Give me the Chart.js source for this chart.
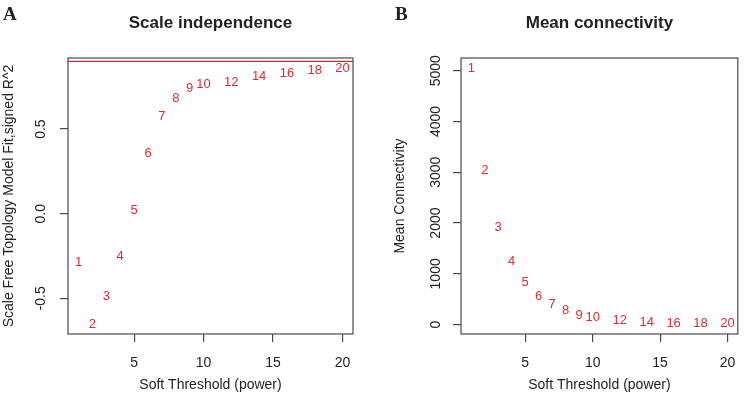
<!DOCTYPE html>
<html>
<head>
<meta charset="utf-8">
<script src="https://cdn.jsdelivr.net/npm/chart.js@4/dist/chart.umd.min.js"></script>
<style>
html,body{margin:0;padding:0;background:#fff;width:748px;height:395px;overflow:hidden;}
canvas{position:absolute;top:0;}
#cA{left:0;} #cB{left:374px;}
</style>
</head>
<body>
<canvas id="cA" width="374" height="395"></canvas>
<canvas id="cB" width="374" height="395"></canvas>
<script>
// ---- data ----
const powers = [1,2,3,4,5,6,7,8,9,10,12,14,16,18,20];
const scaleFitR2 = [-0.29,-0.654,-0.487,-0.254,0.022,0.356,0.573,0.682,0.738,0.764,0.778,0.812,0.829,0.845,0.859];
const meanConnectivity = [5053,3040,1913,1243,822,552,389,276,191,146,79,39,28,22,17];
const r2Cutoff = 0.9;
const xTicks = [5,10,15,20];
const yTicksA = [-0.5,0,0.5];
const yTickLabelsA = ['-0.5','0.0','0.5'];
const yTicksB = [0,1000,2000,3000,4000,5000];
const yTickLabelsB = ['0','1000','2000','3000','4000','5000'];
const titles = ['Scale independence','Mean connectivity'];
const panelLetters = ['A','B'];
const xTitle = 'Soft Threshold (power)';
const yTitles = ['Scale Free Topology Model Fit,signed R^2','Mean Connectivity'];

const RED = '#df2a2f';
const AXIS = '#4a4a4a';
const FONT = '"Liberation Sans", Arial, Helvetica, sans-serif';

function makeChart(id, values, yMin, yMax, yTicks, yLabels, cfg) {
  const pts = powers.map((p,i)=>({x:p,y:values[i]}));
  const datasets = [{
    data: pts, pointRadius: 0, pointHoverRadius: 0, showLine: false,
    borderColor: RED, backgroundColor: RED
  }];
  if (cfg.cutoff !== undefined) {
    datasets.push({
      data: [{x:cfg.xMin,y:cfg.cutoff},{x:cfg.xMax,y:cfg.cutoff}],
      showLine: true, pointRadius: 0, borderColor: RED, borderWidth: 1.2, labelsOff: true
    });
  }
  const decor = {
    id: 'decor',
    afterDraw(chart) {
      const ctx = chart.ctx, a = chart.chartArea;
      const ys = chart.scales.y;
      ctx.save();
      // box
      ctx.strokeStyle = AXIS; ctx.lineWidth = 1.2;
      ctx.strokeRect(a.left, a.top, a.right - a.left, a.bottom - a.top);
      // point labels
      const meta = chart.getDatasetMeta(0);
      ctx.fillStyle = RED; ctx.font = '13px ' + FONT;
      ctx.textAlign = 'center'; ctx.textBaseline = 'middle';
      meta.data.forEach((el,i)=>{ ctx.fillText(String(powers[i]), el.x, el.y); });
      // y tick labels (rotated)
      ctx.fillStyle = '#222'; ctx.font = '14px ' + FONT;
      yTicks.forEach((v,i)=>{
        const py = ys.getPixelForValue(v);
        ctx.save(); ctx.translate(cfg.yLabelX, py); ctx.rotate(-Math.PI/2);
        ctx.fillText(yLabels[i], 0, 0); ctx.restore();
      });
      // y title
      ctx.save(); ctx.translate(cfg.yTitleX, (a.top + a.bottom)/2); ctx.rotate(-Math.PI/2);
      ctx.fillText(cfg.yTitle, 0, 0); ctx.restore();
      // x title
      ctx.fillText(xTitle, (a.left + a.right)/2, 385);
      // main title
      ctx.font = 'bold 17px ' + FONT; ctx.textBaseline = 'alphabetic';
      ctx.fillText(cfg.title, (a.left + a.right)/2, 27.5);
      // panel letter
      ctx.font = 'bold 19px "Liberation Serif", "Times New Roman", serif';
      ctx.textAlign = 'left';
      ctx.fillText(cfg.letter, cfg.letterX, 19.5);
      ctx.restore();
    }
  };
  return new Chart(document.getElementById(id), {
    type: 'scatter',
    data: { datasets },
    options: {
      responsive: false, animation: false, devicePixelRatio: 1,
      layout: { padding: { left: 0, right: cfg.padRight, top: 58, bottom: 0 } },
      plugins: { legend: {display:false}, tooltip: {enabled:false}, title: {display:false} },
      scales: {
        x: {
          type: 'linear', min: cfg.xMin, max: cfg.xMax,
          afterBuildTicks: s => { s.ticks = xTicks.map(v=>({value:v})); },
          afterFit: s => { s.height = 61; },
          grid: { drawOnChartArea: false, drawTicks: true, tickLength: 8, color: AXIS, lineWidth: 1.2 },
          border: { display: false },
          ticks: { color: '#222', font: { size: 14, family: FONT }, padding: 12.6, maxRotation: 0, autoSkip: false }
        },
        y: {
          type: 'linear', min: yMin, max: yMax,
          afterBuildTicks: s => { s.ticks = yTicks.map(v=>({value:v})); },
          afterFit: s => { s.width = cfg.yAxisWidth; },
          grid: { drawOnChartArea: false, drawTicks: true, tickLength: 8, color: AXIS, lineWidth: 1.2 },
          border: { display: false },
          ticks: { display: false }
        }
      }
    },
    plugins: [decor]
  });
}

makeChart('cA', scaleFitR2, -0.711, 0.92, yTicksA, yTickLabelsA, {
  xMin: 0.24, xMax: 20.76, cutoff: r2Cutoff, padRight: 21, yAxisWidth: 68,
  yLabelX: 41, yTitleX: 9, yTitle: yTitles[0], title: titles[0], letter: panelLetters[0], letterX: 3
});
makeChart('cB', meanConnectivity, -184, 5250, yTicksB, yTickLabelsB, {
  xMin: 0.24, xMax: 20.76, padRight: 1, yAxisWidth: 87,
  yLabelX: 61.7, yTitleX: 26.5, yTitle: yTitles[1], title: titles[1], letter: panelLetters[1], letterX: 21
});
</script>
</body>
</html>
